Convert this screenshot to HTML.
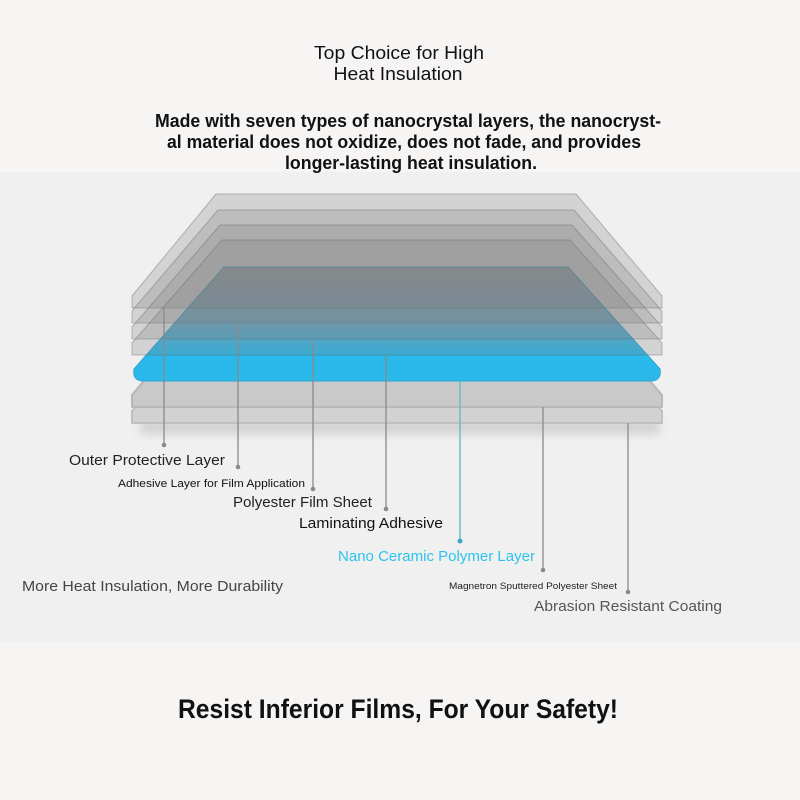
<!DOCTYPE html>
<html><head><meta charset="utf-8"><style>
html,body{margin:0;padding:0;background:#f7f4f4;}
svg{display:block;font-family:"Liberation Sans",sans-serif;}
</style></head><body>
<svg width="800" height="800" viewBox="0 0 800 800" xmlns="http://www.w3.org/2000/svg">
<defs>
<linearGradient id="bl" x1="0" y1="267" x2="0" y2="381" gradientUnits="userSpaceOnUse">
<stop offset="0" stop-color="#a4acb2"/><stop offset="0.45" stop-color="#6fb0cf"/><stop offset="0.75" stop-color="#2bb8ea"/><stop offset="1" stop-color="#2bb8ea"/>
</linearGradient>
<filter id="sh" x="-10%" y="-50%" width="120%" height="200%"><feGaussianBlur stdDeviation="5"/></filter>
</defs>
<rect x="0" y="0" width="800" height="800" fill="#f7f4f4"/>
<rect x="0" y="172" width="800" height="470" fill="#f0f0f0"/>

<text x="399" y="59" text-anchor="middle" font-size="18" fill="#111" textLength="170" lengthAdjust="spacingAndGlyphs">Top Choice for High</text>
<text x="398" y="80" text-anchor="middle" font-size="18" fill="#111" textLength="129" lengthAdjust="spacingAndGlyphs">Heat Insulation</text>
<g font-size="18" font-weight="bold" fill="#111">
<text x="155" y="127" textLength="506" lengthAdjust="spacingAndGlyphs">Made with seven types of nanocrystal layers, the nanocryst-</text>
<text x="167" y="148" textLength="474" lengthAdjust="spacingAndGlyphs">al material does not oxidize, does not fade, and provides</text>
<text x="285" y="169" textLength="252" lengthAdjust="spacingAndGlyphs">longer-lasting heat insulation.</text>
</g>

<rect x="140" y="420" width="520" height="14" fill="#c8c8c8" filter="url(#sh)" opacity="0.8"/>

<g stroke-linejoin="round" stroke-width="2">
<path d="M132,411 L220,310 L572,310 L662,411 L662,423 L132,423 Z" fill="#d2d2d2" stroke="#c0c0c0"/>
<path d="M132,395 L220,290 L572,290 L662,395 L662,407 L132,407 Z" fill="#c9c9c9" stroke="#b8b8b8"/>
</g>
<path d="M134,369 L224,267 L568,267 L660,369 Q662,381 650,381 L144,381 Q132,381 134,369 Z" fill="url(#bl)" stroke="#2aa8d8" stroke-width="1"/>
<g stroke="rgba(100,100,100,0.4)" stroke-width="1" stroke-linejoin="round" fill="rgba(120,120,120,0.24)">
<path d="M132,296 L216,194 L576,194 L662,296 L662,308 L132,308 Z"/>
<path d="M132,311 L218,210 L574,210 L662,311 L662,323 L132,323 Z"/>
<path d="M132,327 L220,225 L572,225 L662,327 L662,339 L132,339 Z"/>
<path d="M132,343 L222,240 L570,240 L662,343 L662,355 L132,355 Z"/>
</g>

<g stroke="#8a8a8a" stroke-width="1.3" fill="#8a8a8a">
<line x1="164" y1="308" x2="164" y2="445"/><circle cx="164" cy="445" r="2.3" stroke="none"/>
<line x1="238" y1="323" x2="238" y2="467"/><circle cx="238" cy="467" r="2.3" stroke="none"/>
<line x1="313" y1="339" x2="313" y2="489"/><circle cx="313" cy="489" r="2.3" stroke="none"/>
<line x1="386" y1="355" x2="386" y2="509"/><circle cx="386" cy="509" r="2.3" stroke="none"/>
<line x1="543" y1="407" x2="543" y2="570"/><circle cx="543" cy="570" r="2.3" stroke="none"/>
<line x1="628" y1="423" x2="628" y2="592"/><circle cx="628" cy="592" r="2.3" stroke="none"/>
</g>
<line x1="460" y1="381" x2="460" y2="541" stroke="#5ab6d6" stroke-width="1.3"/>
<circle cx="460" cy="541" r="2.5" fill="#3aa7cc"/>

<g font-size="15" fill="#222">
<text x="69" y="465" textLength="156" lengthAdjust="spacingAndGlyphs">Outer Protective Layer</text>
<text x="118" y="487" font-size="11" fill="#111" textLength="187" lengthAdjust="spacingAndGlyphs">Adhesive Layer for Film Application</text>
<text x="233" y="507" textLength="139" lengthAdjust="spacingAndGlyphs">Polyester Film Sheet</text>
<text x="299" y="528" fill="#111" textLength="144" lengthAdjust="spacingAndGlyphs">Laminating Adhesive</text>
<text x="338" y="561" fill="#2bc4ee" textLength="197" lengthAdjust="spacingAndGlyphs">Nano Ceramic Polymer Layer</text>
<text x="449" y="589" font-size="9.5" fill="#222" textLength="168" lengthAdjust="spacingAndGlyphs">Magnetron Sputtered Polyester Sheet</text>
<text x="534" y="611" fill="#555" textLength="188" lengthAdjust="spacingAndGlyphs">Abrasion Resistant Coating</text>
<text x="22" y="591" fill="#444" textLength="261" lengthAdjust="spacingAndGlyphs">More Heat Insulation, More Durability</text>
</g>

<text x="178" y="718" font-size="27" font-weight="bold" fill="#111" textLength="440" lengthAdjust="spacingAndGlyphs">Resist Inferior Films, For Your Safety!</text>
</svg>
</body></html>
